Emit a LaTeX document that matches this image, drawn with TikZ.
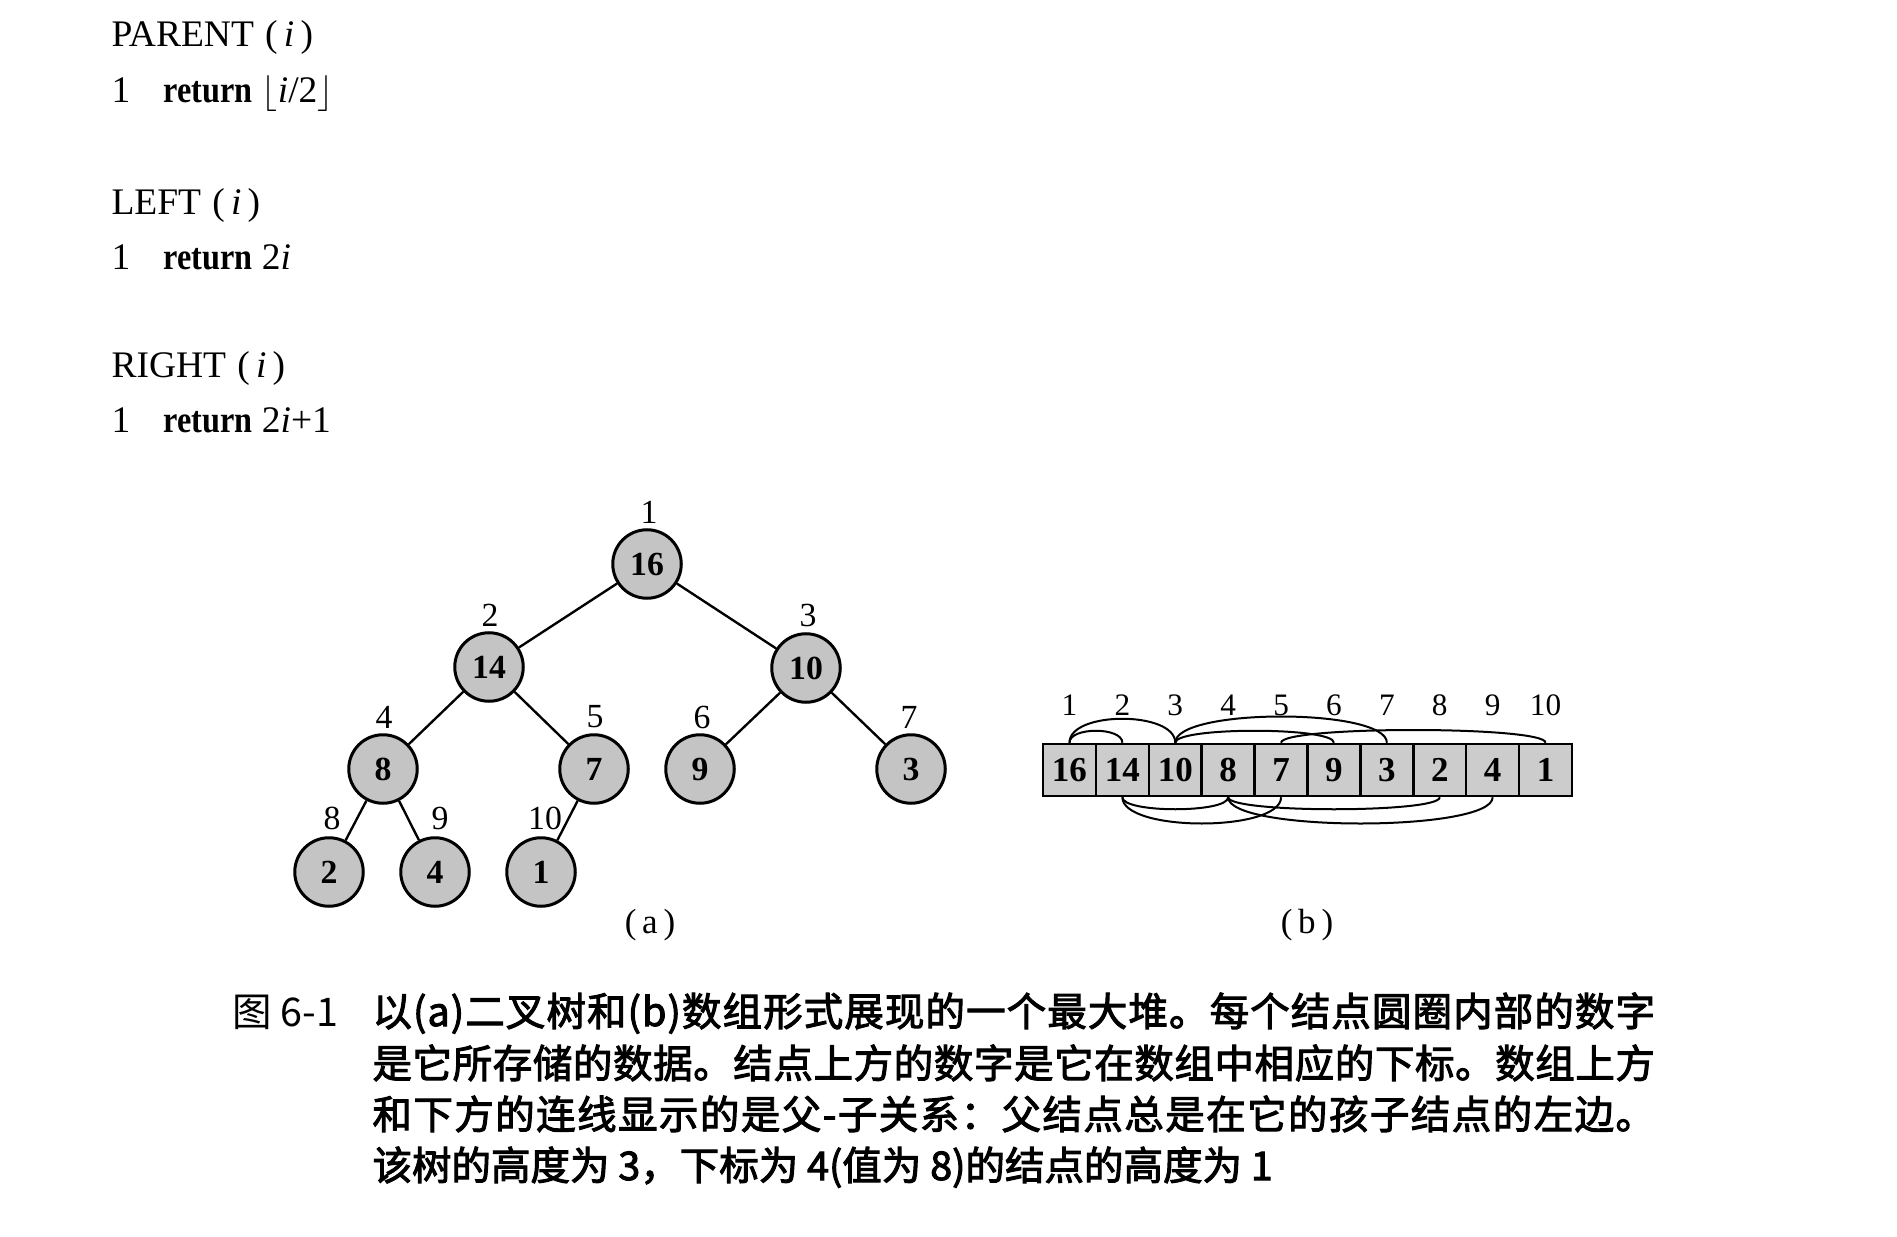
\documentclass[tikz,border=0pt]{standalone}
\usepackage{fontspec}
\usepackage{graphicx}
\setmainfont{Liberation Serif}
\newfontfamily\cjkfont{Noto Sans CJK SC}
\newfontfamily\cjkheavy{Noto Sans CJK SC}[FakeBold=2.5]
\usetikzlibrary{calc}

\definecolor{nodegray}{RGB}{196,196,196}
\definecolor{cellgray}{RGB}{204,204,204}

% pseudocode keyword
\newcommand\retkw{\scalebox{0.86}[1]{\bfseries return}}
% parent/child arcs above and below the array
\newcommand\toparc[3]{\draw[arcline] (c#1.north) .. controls ($(c#1.north)+(0,-#3)$) and ($(c#2.north)+(0,-#3)$) .. (c#2.north);}
\newcommand\botarc[3]{\draw[arcline] (c#1.south) .. controls ($(c#1.south)+(0,#3)$) and ($(c#2.south)+(0,#3)$) .. (c#2.south);}
% spread the characters of one caption line evenly over the full width
\def\spreadend{\spreadend}
\def\spreadloop#1{\ifx#1\spreadend\else#1\hskip0pt plus 1fil\relax\expandafter\spreadloop\fi}
\newcommand\fullline[1]{\hbox to 513pt{\spreadloop#1\spreadend\unskip}}

\begin{document}
\begin{tikzpicture}[x=0.4pt,y=-0.4pt,
  code/.style={anchor=base west,inner sep=0pt,font=\fontsize{15}{18}\selectfont},
  heapnode/.style={circle,draw,line width=1.2pt,fill=nodegray,minimum size=27.4pt,inner sep=0pt,
    font=\fontsize{13.5}{15}\selectfont\bfseries},
  idx/.style={inner sep=0pt,font=\fontsize{13.5}{15}\selectfont},
  treeedge/.style={line width=0.95pt},
  cell/.style={draw,line width=1pt,fill=cellgray,minimum width=21.16pt,minimum height=20.8pt,inner sep=0pt,
    font=\fontsize{14}{16}\selectfont\bfseries},
  cellidx/.style={inner sep=0pt,font=\fontsize{12.5}{14}\selectfont},
  arcline/.style={line width=0.8pt},
  sublabel/.style={inner sep=0pt,font=\fontsize{14}{16}\selectfont},
  capline/.style={anchor=base west,inner sep=0pt,font=\cjkheavy\fontsize{15.8}{20.7}\selectfont},
  figlabel/.style={anchor=base west,inner sep=0pt,font=\cjkfont\fontsize{15.8}{20.7}\selectfont},
]
\useasboundingbox (0,0) rectangle (1897,1237);

% ---- pseudocode ----
\node[code] (parent) at (111,47) {PARENT\hspace{0.3em}(\,\textit{i}\,)};
\node[code] (parentn) at (111,103) {1};
\node[code] (parentr) at (163,103) {\retkw\ $\lfloor$\textit{i}/2$\rfloor$};
\node[code] (left) at (111,215) {LEFT\hspace{0.3em}(\,\textit{i}\,)};
\node[code] (leftn) at (111,270) {1};
\node[code] (leftr) at (163,270) {\retkw\ 2\textit{i}};
\node[code] (right) at (111,378) {RIGHT\hspace{0.3em}(\,\textit{i}\,)};
\node[code] (rightn) at (111,433) {1};
\node[code] (rightr) at (163,433) {\retkw\ 2\textit{i}+1};

% ---- (a) binary tree ----
\node[heapnode] (n1) at (647,564) {16};
\node[heapnode] (n2) at (489,667) {14};
\node[heapnode] (n3) at (806,668) {10};
\node[heapnode] (n4) at (383,769) {8};
\node[heapnode] (n5) at (594,769) {7};
\node[heapnode] (n6) at (700,769) {9};
\node[heapnode] (n7) at (911,769) {3};
\node[heapnode] (n8) at (329,872) {2};
\node[heapnode] (n9) at (435,872) {4};
\node[heapnode] (n10) at (541,872) {1};

\node[idx] (i1) at (649,512) {1};
\node[idx] (i2) at (490,615) {2};
\node[idx] (i3) at (808,615) {3};
\node[idx] (i4) at (384,717) {4};
\node[idx] (i5) at (595,717) {5};
\node[idx] (i6) at (702,717) {6};
\node[idx] (i7) at (909,717) {7};
\node[idx] (i8) at (332,818) {8};
\node[idx] (i9) at (440,818) {9};
\node[idx] (i10) at (545,818) {10};

\draw[treeedge] (n1) -- (n2);
\draw[treeedge] (n1) -- (n3);
\draw[treeedge] (n2) -- (n4);
\draw[treeedge] (n2) -- (n5);
\draw[treeedge] (n3) -- (n6);
\draw[treeedge] (n3) -- (n7);
\draw[treeedge] (n4) -- (n8);
\draw[treeedge] (n4) -- (n9);
\draw[treeedge] (n5) -- (n10);

\node[sublabel] (capa) at (650,925) {(\,a\,)};

% ---- (b) array ----
\foreach \v [count=\i] in {16,14,10,8,7,9,3,2,4,1} {
  \node[cell] (c\i) at ({1043+52.9*(\i-0.5)},770) {\v};
  \node[cellidx] (ci\i) at ({1043+52.9*(\i-0.5)},705) {\i};
}
\toparc{1}{2}{16}
\toparc{1}{3}{32}
\toparc{3}{6}{16}
\toparc{3}{7}{35}
\toparc{5}{10}{17}
\botarc{2}{4}{16}
\botarc{2}{5}{35}
\botarc{4}{8}{16}
\botarc{4}{9}{35}

\node[sublabel] (capb) at (1307,925) {(\,b\,)};

% ---- caption ----
\node[figlabel] (fig) at (232,1026) {图 6-1};
\node[capline] (cap1) at (372,1026) {\fullline{以(a)二叉树和(b)数组形式展现的一个最大堆。每个结点圆圈内部的数字}};
\node[capline] (cap2) at (372,1078) {\fullline{是它所存储的数据。结点上方的数字是它在数组中相应的下标。数组上方}};
\node[capline] (cap3) at (372,1129) {\fullline{和下方的连线显示的是父-子关系：父结点总是在它的孩子结点的左边。}};
\node[capline] (cap4) at (372,1180) {该树的高度为 3，下标为 4(值为 8)的结点的高度为 1};
\end{tikzpicture}
\end{document}
